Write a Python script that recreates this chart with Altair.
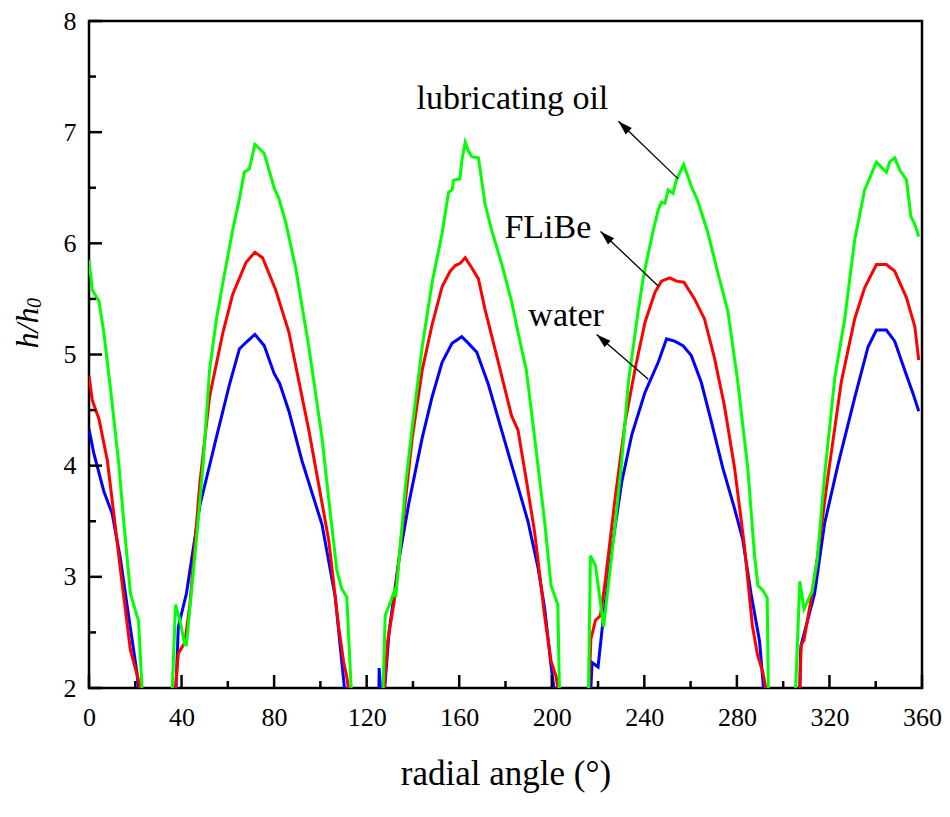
import altair as alt
import pandas as pd

# ---------------- data ----------------
WATER = [
    [(0, 4.33), (2.1, 4.11), (6.4, 3.77), (10, 3.57), (13.6, 3.16), (17.1, 2.65), (20.7, 2.14), (21.4, 2.0)],
    [(37.6, 2.0), (38.6, 2.55), (42.1, 2.85), (47.9, 3.64), (55, 4.25), (60.7, 4.73), (65, 5.05), (67.9, 5.11),
     (71.7, 5.18), (75.7, 5.08), (80, 4.83), (82.4, 4.74), (86.4, 4.49), (92.1, 4.04), (100.7, 3.47),
     (106.4, 2.82), (110.4, 2.0)],
    [(125.3, 2.0), (125.4, 2.18), (126.0, 2.0)],
    [(127.8, 2.0), (129.7, 2.51), (134, 3.16), (138.3, 3.67), (144, 4.25), (148.3, 4.62), (152.6, 4.93),
     (156.9, 5.1), (161.1, 5.16), (164, 5.1), (167.6, 5.02), (172.6, 4.73), (178.3, 4.32), (184, 3.91),
     (189.7, 3.5), (194, 3.09), (196.9, 2.72), (199.7, 2.2), (200.9, 2.0)],
    [(216.9, 2.0), (217.4, 2.23), (220, 2.19), (221.7, 2.52), (226, 3.26), (230.3, 3.86), (234.6, 4.28),
     (240.3, 4.66), (246, 4.93), (249.6, 5.14), (253.1, 5.12), (256.7, 5.08), (260.3, 4.99), (264.6, 4.75),
     (268.9, 4.4), (273.9, 3.98), (278.9, 3.62), (282.5, 3.34), (286.1, 2.85), (289.8, 2.42), (291.5, 2.0)],
    [(307.2, 2.0), (307.5, 2.33), (307.8, 2.39), (313.6, 2.85), (317.9, 3.48), (323.7, 4.01), (330.9, 4.61),
     (336.7, 5.07), (340.3, 5.22), (344.6, 5.22), (348.2, 5.12), (352.5, 4.86), (356.1, 4.65), (358.6, 4.49)],
]

FLIBE = [
    [(0, 4.81), (1.4, 4.59), (4.3, 4.42), (7.9, 4.05), (10.7, 3.57), (13.6, 3.06), (17.9, 2.34), (21.4, 2.07),
     (22.1, 2.0)],
    [(37.4, 2.0), (38.6, 2.31), (41.4, 2.41), (43.6, 2.75), (47.9, 3.84), (52.1, 4.62), (57.9, 5.2), (62.1, 5.54),
     (67.9, 5.83), (71.7, 5.92), (75, 5.87), (80.7, 5.58), (86.4, 5.2), (95, 4.32), (103.6, 3.33), (107.9, 2.55),
     (110, 2.24), (111.4, 2.1), (112.1, 2.0)],
    [(127.6, 2.0), (129, 2.41), (131.9, 2.78), (135.4, 3.43), (139.7, 4.25), (144, 4.86), (148.3, 5.27),
     (152.6, 5.61), (156.1, 5.75), (158.3, 5.8), (160.4, 5.82), (162.6, 5.87), (165.4, 5.78), (168.3, 5.68),
     (171.1, 5.41), (176.9, 4.93), (182.6, 4.45), (185.4, 4.32), (189, 3.87), (192.6, 3.4), (196.9, 2.65),
     (199.7, 2.24), (201.9, 2.1), (202.6, 2.0)],
    [(216.1, 2.0), (216.9, 2.44), (218.9, 2.61), (221, 2.65), (223.1, 2.96), (227.4, 3.71), (231.7, 4.39),
     (236, 4.87), (240.3, 5.29), (244.6, 5.56), (247.4, 5.66), (251, 5.69), (253.9, 5.66), (257.1, 5.65),
     (261.7, 5.5), (266, 5.32), (270.3, 4.97), (274.6, 4.54), (279, 3.98), (283.3, 3.27), (286.7, 2.56),
     (288.9, 2.3), (291.2, 2.14), (292.5, 2.0)],
    [(307.2, 2.0), (307.8, 2.39), (309, 2.43), (312.5, 2.85), (314.7, 3.16), (319.4, 3.91), (325.1, 4.75),
     (330.9, 5.32), (335.2, 5.6), (340.3, 5.81), (344.6, 5.81), (348.2, 5.75), (353.3, 5.51), (356.9, 5.25),
     (358.6, 4.95)],
]

OIL = [
    [(0, 5.85), (1.4, 5.58), (4.3, 5.48), (6.4, 5.2), (9.3, 4.69), (12.9, 4.01), (15, 3.5), (17.9, 2.85),
     (20.7, 2.65), (21.4, 2.61), (22.9, 2.0)],
    [(36, 2.0), (37.4, 2.75), (39.3, 2.61), (41.4, 2.39), (42.1, 2.39), (43.6, 2.72), (46.4, 3.33), (49.3, 4.01),
     (52.1, 4.86), (55, 5.31), (57.9, 5.65), (62.1, 6.12), (65, 6.4), (67.1, 6.64), (69.3, 6.67), (71.7, 6.89),
     (75.7, 6.81), (80, 6.5), (82.1, 6.4), (85, 6.19), (89.3, 5.78), (95, 5.07), (100.7, 4.25), (103.6, 3.7),
     (107.1, 3.06), (109.3, 2.89), (111.4, 2.82), (113.3, 2.0)],
    [(127.1, 2.0), (128, 2.65), (130.4, 2.78), (131.9, 2.87), (132.6, 2.82), (134, 3.16), (136.9, 3.84),
     (139.7, 4.35), (144, 5.07), (148.3, 5.65), (152.6, 6.09), (155.4, 6.46), (156.9, 6.48), (157.6, 6.57),
     (160.3, 6.58), (161.1, 6.74), (162.6, 6.91), (164, 6.83), (165.4, 6.78), (168.3, 6.77), (171.1, 6.36),
     (174, 6.12), (178.3, 5.82), (182.6, 5.48), (185.4, 5.2), (189, 4.86), (192.6, 4.25), (196.9, 3.5),
     (199.7, 2.92), (202.6, 2.75), (203.3, 2.0)],
    [(215.9, 2.0), (216.7, 3.19), (218.9, 3.1), (222.4, 2.55), (224.6, 2.96), (227.4, 3.47), (230.3, 4.06),
     (233.1, 4.75), (237.4, 5.4), (239.6, 5.7), (241.7, 5.91), (243.9, 6.12), (246, 6.3), (247.4, 6.37),
     (248.9, 6.36), (250.3, 6.48), (252.4, 6.45), (253.7, 6.56), (255.2, 6.63), (257, 6.71), (260.2, 6.52),
     (263.1, 6.38), (267.4, 6.1), (271.7, 5.74), (276.1, 5.39), (280.4, 4.75), (284.7, 3.98), (287.6, 3.2),
     (289.1, 2.92), (291.2, 2.88), (293.1, 2.81), (293.6, 2.0)],
    [(305.4, 2.0), (307.2, 2.96), (309, 2.71), (312.5, 2.87), (314.7, 3.15), (317.9, 3.91), (322.3, 4.79),
     (326.6, 5.32), (330.9, 6.03), (335.2, 6.48), (340.3, 6.73), (344.6, 6.64), (346, 6.73), (348.2, 6.77),
     (350.4, 6.66), (353.3, 6.57), (355.2, 6.24), (356.9, 6.17), (358.6, 6.06)],
]

X_MAJOR = [0, 40, 80, 120, 160, 200, 240, 280, 320, 360]
X_MINOR = [20, 60, 100, 140, 180, 220, 260, 300, 340]
Y_MAJOR = [2, 3, 4, 5, 6, 7, 8]
Y_MINOR = [2.5, 3.5, 4.5, 5.5, 6.5, 7.5]

LABELS = ["lubricating oil", "FLiBe", "water"]
LABEL_X = [183.0, 198.3, 206.2]
LABEL_Y = [7.205, 6.045, 5.259]
ARROW_X = [254.6, 246.0, 241.7]
ARROW_Y = [6.58, 5.616, 4.777]
TIP_X = [228.8, 221.1, 219.4]
TIP_Y = [7.098, 6.107, 5.179]
TIP_ANGLE = [314, 313.5, 311]

W, H = 833, 667
FONT = "Liberation Serif"


def to_df(segs, name):
    rows = []
    for i, seg in enumerate(segs):
        for j, (x, y) in enumerate(seg):
            rows.append({"x": x, "y": y, "seg": f"{name}{i}", "order": j})
    return pd.DataFrame(rows)


xscale = alt.Scale(domain=[0, 360], nice=False, zero=False)
yscale = alt.Scale(domain=[2, 8], nice=False, zero=False)
xaxis = alt.Axis(values=X_MAJOR, ticks=False, tickSize=0, domain=False, grid=False,
                 labelFont=FONT, labelFontSize=26, labelColor="black", labelPadding=37,
                 labelBaseline="alphabetic", labelFlush=False,
                 title="radial angle (°)", titleFont=FONT, titleFontSize=35, titleFontWeight="normal",
                 titleColor="black", titleY=96, titleBaseline="alphabetic")
yaxis = alt.Axis(values=Y_MAJOR, ticks=False, tickSize=0, domain=False, grid=False,
                 labelFont=FONT, labelFontSize=26, labelColor="black", labelPadding=13,
                 labelFlush=False, title=None)


def X(field="x"):
    return alt.X(f"{field}:Q", scale=xscale, axis=xaxis)


def Y(field="y"):
    return alt.Y(f"{field}:Q", scale=yscale, axis=yaxis)


def curve(segs, name, color):
    return alt.Chart(to_df(segs, name)).mark_line(clip=True, strokeWidth=3, color=color).encode(
        x=X(), y=Y(), detail="seg:N", order="order:Q")


blue = curve(WATER, "w", "#0000FF")
red = curve(FLIBE, "f", "#FF0000")
green = curve(OIL, "o", "#00FF00")

xt_major = alt.Chart(pd.DataFrame({"x": X_MAJOR})).mark_rule(strokeWidth=2.5, color="black").encode(
    x=X(), y=alt.value(H), y2=alt.value(H - 13))
xt_minor = alt.Chart(pd.DataFrame({"x": X_MINOR})).mark_rule(strokeWidth=2.5, color="black").encode(
    x=X(), y=alt.value(H), y2=alt.value(H - 7))
yt_major = alt.Chart(pd.DataFrame({"y": Y_MAJOR})).mark_rule(strokeWidth=2.5, color="black").encode(
    y=Y(), x=alt.value(0), x2=alt.value(13))
yt_minor = alt.Chart(pd.DataFrame({"y": Y_MINOR})).mark_rule(strokeWidth=2.5, color="black").encode(
    y=Y(), x=alt.value(0), x2=alt.value(7))

ann = pd.DataFrame({"label": LABELS, "x": LABEL_X, "y": LABEL_Y,
                    "ax": ARROW_X, "ay": ARROW_Y, "tx": TIP_X, "ty": TIP_Y, "ang": TIP_ANGLE})

texts = alt.Chart(ann).mark_text(font=FONT, fontSize=34, color="black", align="center",
                                 baseline="alphabetic").encode(x=X(), y=Y(), text="label:N")
arrows = alt.Chart(ann).mark_rule(strokeWidth=1.3, color="black").encode(
    x=X("ax"), y=Y("ay"), x2="tx:Q", y2="ty:Q")
heads = alt.Chart(ann).mark_point(shape="M0,0L0.55,1.8L-0.55,1.8Z", filled=True, opacity=1,
                                  color="black", size=256).encode(
    x=X("tx"), y=Y("ty"), angle=alt.Angle("ang:Q", scale=None))

ytitle_main = alt.Chart(pd.DataFrame({"t": ["h/h"]})).mark_text(
    font=FONT, fontSize=32, fontStyle="italic", color="black", angle=270,
    align="center", baseline="alphabetic").encode(text="t:N", x=alt.value(-51), y=alt.value(307))
ytitle_sub = alt.Chart(pd.DataFrame({"t": ["0"]})).mark_text(
    font=FONT, fontSize=20, fontStyle="italic", color="black", angle=270,
    align="center", baseline="alphabetic").encode(text="t:N", x=alt.value(-48), y=alt.value(282))

chart = alt.layer(
    blue, red, green, xt_major, xt_minor, yt_major, yt_minor, arrows, heads, texts, ytitle_main, ytitle_sub
).properties(
    width=W, height=H,
    padding={"left": 81, "top": 13, "right": 20, "bottom": 120},
    autosize=alt.AutoSizeParams(type="none"),
    background="white",
).configure_view(stroke="black", strokeWidth=2.5)

chart.save("out.html", embed_options={"renderer": "svg", "actions": False})
